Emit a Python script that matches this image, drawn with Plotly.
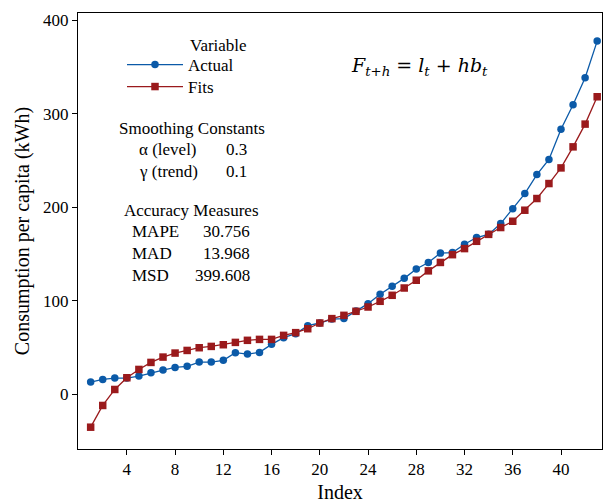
import plotly.graph_objects as go

index = list(range(1, 44))
actual = [13.2, 16, 17.5, 17.5, 19.6, 23.2, 26, 28.9, 30, 34.6,
          34.6, 36.4, 44.6, 43.1, 44.9, 53.5, 60.6, 64.9, 73.5, 76.3,
          80.5, 81, 89, 97, 107, 115.5, 124, 134, 141, 151,
          151.5, 160.4, 167.6, 171, 182.5, 198.5, 214.6, 234.9, 251, 283.4,
          309.4, 338.3, 377.5]
fits = [-35, -11.8, 5.3, 17.8, 26.7, 34.2, 39.9, 44.2, 47, 49.9,
        51.3, 53.1, 55.6, 57.8, 58.8, 58.8, 63.1, 66, 70.2, 76.3,
        81, 84.5, 88.8, 93.4, 99.5, 105.9, 113.7, 122, 132, 141,
        149.3, 155.8, 163.6, 171, 178.3, 185, 196.8, 209.3, 225.3, 242,
        264.5, 288.8, 318]
x_ticks = [4, 8, 12, 16, 20, 24, 28, 32, 36, 40]
y_ticks = [0, 100, 200, 300, 400]

BLUE = "#0B5AA8"
RED = "#9A1A1C"
FONT = "Liberation Serif"

W, H = 606, 504
ML, MR, MT, MB = 78, 4, 13, 55


def px(xp):
    return (xp - ML) / (W - ML - MR)


def py(yp):
    return (H - MB - yp) / (H - MT - MB)


fig = go.Figure()
fig.add_trace(go.Scatter(x=index, y=actual, mode="lines+markers", name="Actual",
                         legend="legend",
                         line=dict(color=BLUE, width=1.3),
                         marker=dict(symbol="circle", size=7.5, color=BLUE)))
fig.add_trace(go.Scatter(x=index, y=fits, mode="lines+markers", name="Fits",
                         legend="legend2",
                         line=dict(color=RED, width=1.3),
                         marker=dict(symbol="square", size=7.5, color=RED)))

ann = []


def text(t, x, y, xanchor="left", size=17, family=FONT):
    ann.append(dict(text=t, x=px(x), y=py(y), xref="paper", yref="paper",
                    xanchor=xanchor, yanchor="middle", showarrow=False,
                    font=dict(family=family, size=size, color="black")))


text("Variable", 188, 45)
text("Smoothing Constants", 192, 128, "center")
text("α (level)", 199, 149, "right")
text("0.3", 224, 149)
text("γ (trend)", 200, 171, "right")
text("0.1", 224, 171)
text("Accuracy Measures", 191, 210, "center")
text("MAPE", 130, 232)
text("30.756", 252, 232, "right")
text("MAD", 130, 253)
text("13.968", 252, 253, "right")
text("MSD", 130, 275)
text("399.608", 252, 275, "right")
text("<i>F</i><sub><i>t</i>+<i>h</i></sub> = <i>l</i><sub><i>t</i></sub> + <i>hb</i><sub><i>t</i></sub>",
     419, 66, "center", size=19, family="DejaVu Serif")

leg_common = dict(xanchor="left", yanchor="top", bgcolor="rgba(0,0,0,0)",
                  borderwidth=0, itemwidth=56, font=dict(family=FONT, size=17))

fig.update_layout(
    width=W, height=H,
    margin=dict(l=ML, r=MR, t=MT, b=MB),
    paper_bgcolor="white", plot_bgcolor="white",
    font=dict(family=FONT, size=17, color="black"),
    showlegend=True,
    legend=dict(x=px(122), y=py(47), **leg_common),
    legend2=dict(x=px(122), y=py(69), **leg_common),
    annotations=ann,
    xaxis=dict(range=[-0.05, 43.4], tickvals=x_ticks, ticks="outside", ticklen=5,
               tickcolor="black", showline=True, linecolor="black", linewidth=1,
               mirror=True, showgrid=False, zeroline=False,
               tickfont=dict(family=FONT, size=17),
               title=dict(text="Index", font=dict(family=FONT, size=20), standoff=6)),
    yaxis=dict(range=[-58.3, 407.5], tickvals=y_ticks, ticks="outside", ticklen=5,
               tickcolor="black", showline=True, linecolor="black", linewidth=1,
               mirror=True, showgrid=False, zeroline=False,
               tickfont=dict(family=FONT, size=17),
               title=dict(text="Consumption per capita (kWh)",
                          font=dict(family=FONT, size=20), standoff=8)),
)

fig.write_html("out.html")
